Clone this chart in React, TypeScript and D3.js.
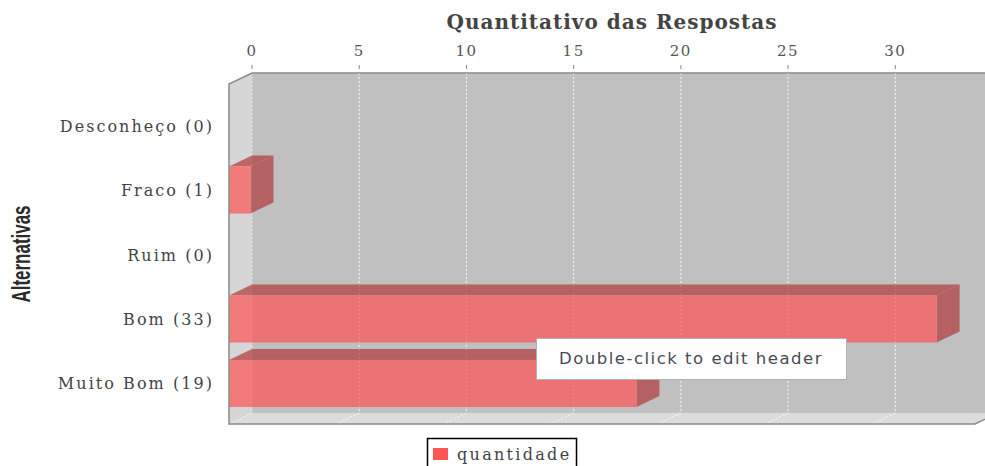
import * as d3 from "d3";

const categories = ["Desconheço (0)", "Fraco (1)", "Ruim (0)", "Bom (33)", "Muito Bom (19)"];
const quantidade = [0, 1, 0, 33, 19];
const tickValues = [0, 5, 10, 15, 20, 25, 30];
const seriesName = "quantidade";
const title = "Quantitativo das Respostas";
const axisLabel = "Alternativas";
const tooltipText = "Double-click to edit header";

export default function App() {
  const width = 985;
  const height = 466;
  // 3D offset of the plot
  const dx = 23;
  const dy = 11;
  const backTop = 73;
  const backBottom = 413;
  const backLeft = 252;
  const backRight = 998;

  const xScale = d3.scaleLinear().domain([0, 34.65]).range([backLeft, 995]);
  const yScale = d3
    .scaleBand<string>()
    .domain(categories)
    .range([102, 407])
    .paddingInner(0.27);
  const bw = yScale.bandwidth();

  const serif = "'DejaVu Serif', serif";
  const barColor = "#ff5555";
  const barDark = "#b23b3b";
  const outline = "#8a8a8a";

  const pts = (p: number[][]) => p.map((q) => q.join(",")).join(" ");

  return (
    <svg
      width={width}
      height={height}
      style={{ position: "absolute", left: 0, top: 0, background: "#fff" }}
    >
      {/* title */}
      <text
        x={612}
        y={29}
        textAnchor="middle"
        fontFamily={serif}
        fontWeight="bold"
        fontSize={20}
        fill="#444"
        letterSpacing={1}
      >
        {title}
      </text>

      {/* back wall */}
      <rect
        x={backLeft}
        y={backTop}
        width={backRight - backLeft}
        height={backBottom - backTop}
        fill="#c0c0c0"
      />
      {/* left wall */}
      <polygon
        points={pts([
          [backLeft - dx, backTop + dy],
          [backLeft, backTop],
          [backLeft, backBottom],
          [backLeft - dx, backBottom + dy],
        ])}
        fill="#d6d6d6"
      />
      {/* floor */}
      <polygon
        points={pts([
          [backLeft - dx, backBottom + dy],
          [backLeft, backBottom],
          [backRight, backBottom],
          [backRight - dx, backBottom + dy],
        ])}
        fill="#dcdcdc"
      />

      {/* gridlines */}
      {tickValues.map((t) => (
        <g key={t} stroke="#fff" strokeWidth={1} strokeDasharray="2,2" opacity={t === 0 ? 0.5 : 0.9}>
          <line x1={xScale(t)} x2={xScale(t)} y1={backTop} y2={backBottom} />
          <line
            x1={xScale(t)}
            x2={xScale(t) - dx}
            y1={backBottom}
            y2={backBottom + dy}
          />
        </g>
      ))}

      {/* bars */}
      {categories.map((c, i) => {
        const v = quantidade[i];
        if (v <= 0) return null;
        const y0 = yScale(c)!;
        const x0 = xScale(0) - dx;
        const x1 = xScale(v) - dx;
        return (
          <g key={c} opacity={0.71}>
            <polygon
              points={pts([
                [x0, y0],
                [x0 + dx, y0 - dy],
                [x1 + dx, y0 - dy],
                [x1, y0],
              ])}
              fill={barDark}
            />
            <polygon
              points={pts([
                [x1, y0],
                [x1 + dx, y0 - dy],
                [x1 + dx, y0 + bw - dy],
                [x1, y0 + bw],
              ])}
              fill={barDark}
            />
            <rect x={x0} y={y0} width={x1 - x0} height={bw} fill={barColor} />
          </g>
        );
      })}

      {/* plot outline */}
      <polyline
        points={pts([
          [backRight, backTop],
          [backLeft, backTop],
          [backLeft - dx, backTop + dy],
          [backLeft - dx, backBottom + dy],
          [backRight - dx, backBottom + dy],
          [backRight, backBottom],
        ])}
        fill="none"
        stroke={outline}
        strokeWidth={1.5}
      />

      {/* top value axis */}
      {tickValues.map((t) => (
        <g key={"t" + t}>
          <line
            x1={xScale(t)}
            x2={xScale(t)}
            y1={65}
            y2={69}
            stroke="#888"
            strokeWidth={1}
          />
          <text
            x={xScale(t)}
            y={56}
            textAnchor="middle"
            fontFamily={serif}
            fontSize={15}
            fill="#555"
            letterSpacing={1.5}
          >
            {t}
          </text>
        </g>
      ))}

      {/* category labels */}
      {categories.map((c) => (
        <text
          key={"l" + c}
          x={214}
          y={yScale(c)! + bw / 2 + 6}
          textAnchor="end"
          fontFamily={serif}
          fontSize={16}
          fill="#444"
          letterSpacing={2.05}
        >
          {c}
        </text>
      ))}

      {/* category axis label */}
      <text
        transform="translate(30, 254) rotate(-90)"
        textAnchor="middle"
        fontFamily="'Liberation Sans', sans-serif"
        fontWeight="bold"
        fontSize={26}
        fill="#2a2a2a"
        textLength={97}
        lengthAdjust="spacingAndGlyphs"
      >
        {axisLabel}
      </text>

      {/* legend */}
      <rect
        x={427.5}
        y={438.5}
        width={149}
        height={40}
        fill="#fff"
        stroke="#000"
        strokeWidth={1.5}
      />
      <rect x={433} y={448} width={15} height={12} fill={barColor} />
      <text
        x={457}
        y={460}
        fontFamily={serif}
        fontSize={16}
        fill="#444"
        letterSpacing={2.3}
      >
        {seriesName}
      </text>

      {/* editor overlay */}
      <rect
        x={536.5}
        y={338.5}
        width={310}
        height={41}
        fill="#fff"
        stroke="#b0b0b0"
        strokeWidth={1}
      />
      <text
        x={691}
        y={364}
        textAnchor="middle"
        fontFamily="'DejaVu Sans', sans-serif"
        fontSize={16.5}
        fill="#4a4a55"
        letterSpacing={1.5}
      >
        {tooltipText}
      </text>
    </svg>
  );
}
